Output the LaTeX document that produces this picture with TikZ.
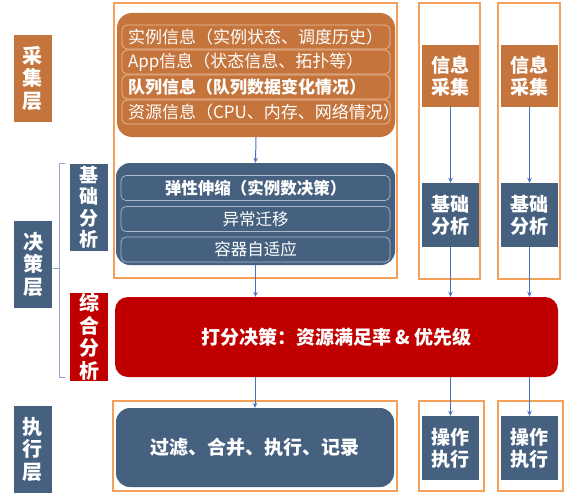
\documentclass[tikz,border=0pt]{standalone}
\usepackage{fontspec}
\setmainfont{Noto Sans CJK SC}
\usetikzlibrary{arrows.meta}
\definecolor{orfill}{RGB}{197,116,60}
\definecolor{blfill}{RGB}{70,97,128}
\definecolor{rdfill}{RGB}{192,0,0}
\definecolor{frameor}{RGB}{245,160,90}
\definecolor{arrowc}{RGB}{72,114,190}
\definecolor{bracec}{RGB}{143,168,204}
\definecolor{orline}{RGB}{232,190,160}
\definecolor{blline}{RGB}{170,185,205}
\begin{document}
\begin{tikzpicture}[x=1pt,y=-1pt,
  frame/.style={draw=frameor, line width=1.4pt},
  lab/.style={inner sep=0pt, text=white, align=center, minimum width=38pt, minimum height=87pt, font=\fontsize{20}{22.5}\selectfont\bfseries},
  obox/.style={fill=orfill, rounded corners=15pt, inner sep=0pt, minimum width=278pt, minimum height=124pt},
  bbox/.style={fill=blfill, rounded corners=14pt, inner sep=0pt},
  orow/.style={draw=orline, line width=0.7pt, rounded corners=5pt, inner xsep=6pt, inner ysep=0pt, text width=256pt, align=left, minimum height=24pt, text=white, font=\fontsize{17}{19}\selectfont},
  brow/.style={draw=blline, line width=0.7pt, rounded corners=5pt, inner sep=0pt, minimum width=269pt, minimum height=25pt, text=white, font=\fontsize{16.5}{19}\selectfont},
  cbox/.style={inner sep=0pt, text=white, align=center, minimum width=57pt, minimum height=63pt, font=\fontsize{19}{22}\selectfont\bfseries},
  arr/.style={draw=arrowc, line width=1pt, -{Stealth[length=5pt,width=4.5pt]}}
]
\useasboundingbox (0,0) rectangle (569,500);
\fill[white] (0,0) rectangle (569,500);

% frames
\draw[frame] (114,3) rectangle (397,278);
\draw[frame] (419,3) rectangle (480,279);
\draw[frame] (498,3) rectangle (560,279);
\draw[frame] (113,401) rectangle (397,491);
\draw[frame] (419,401) rectangle (484,491);
\draw[frame] (498,401) rectangle (563,491);

% left labels
\node[lab, fill=orfill] (lcj) at (32.5,78.5) {采\\集\\层};
\node[lab, fill=blfill] (ljc) at (33,264.5) {决\\策\\层};
\node[lab, fill=blfill] (lzx) at (32.5,449.5) {执\\行\\层};
\node[lab, fill=blfill, font=\fontsize{19}{21.5}\selectfont\bfseries] (ljf) at (89,207.5) {基\\础\\分\\析};
\node[lab, fill=rdfill, minimum height=88pt] (lzh) at (89,337) {综\\合\\分\\析};

% brace
\draw[bracec, line width=1pt] (65,163) -- (59,163) -- (59,377) -- (65,377);
\draw[bracec, line width=1pt] (59,268) -- (53,268);

% collection box
\node[obox] (collect) at (256,75) {};
\node[orow] (r1) at (256,37) {实例信息（实例状态、调度历史）};
\node[orow] (r2) at (256,62) {App信息（状态信息、拓扑等）};
\node[orow, font=\fontsize{17}{19}\selectfont\bfseries] (r3) at (256,87) {队列信息（队列数据变化情况）};
\node[orow] (r4) at (256,112) {资源信息（CPU、内存、网络情况）};

% basic analysis box
\node[bbox, minimum width=279pt, minimum height=102pt] (basic) at (255.5,214) {};
\node[brow, font=\fontsize{16.5}{19}\selectfont\bfseries] (b1) at (255.5,188) {弹性伸缩（实例数决策）};
\node[brow] (b2) at (255.5,219) {异常迁移};
\node[brow] (b3) at (255.5,249.5) {容器自适应};

% red decision box
\node[fill=rdfill, rounded corners=13pt, inner sep=0pt, minimum width=443pt, minimum height=80pt, text=white, font=\fontsize{19}{22}\selectfont\bfseries] (red) at (336.5,337) {打分决策：资源满足率 \& 优先级};

% exec box
\node[bbox, minimum width=278pt, minimum height=79pt, text=white, font=\fontsize{19}{22}\selectfont\bfseries] (exec) at (255,447.5) {过滤、合并、执行、记录};

% columns
\node[cbox, fill=orfill, minimum height=62pt] (c1a) at (450.5,76) {信息\\采集};
\node[cbox, fill=orfill, minimum height=62pt] (c2a) at (529.5,76) {信息\\采集};
\node[cbox, fill=blfill, minimum height=64pt] (c1b) at (450.5,215) {基础\\分析};
\node[cbox, fill=blfill, minimum height=64pt] (c2b) at (529.5,215) {基础\\分析};
\node[cbox, fill=blfill, minimum height=64pt] (c1c) at (450.5,448) {操作\\执行};
\node[cbox, fill=blfill, minimum height=64pt] (c2c) at (529.5,448) {操作\\执行};

% arrows
\draw[arr] (collect.south) -- (basic.north);
\draw[arr] (basic.south) -- (basic.south |- red.north);
\draw[arr] (c1a) -- (c1b);
\draw[arr] (c2a) -- (c2b);
\draw[arr] (c1b.south) -- (c1b.south |- red.north);
\draw[arr] (c2b.south) -- (c2b.south |- red.north);
\draw[arr] (red.south -| exec.north) -- (exec.north);
\draw[arr] (red.south -| c1c.north) -- (c1c.north);
\draw[arr] (red.south -| c2c.north) -- (c2c.north);
\end{tikzpicture}
\end{document}
